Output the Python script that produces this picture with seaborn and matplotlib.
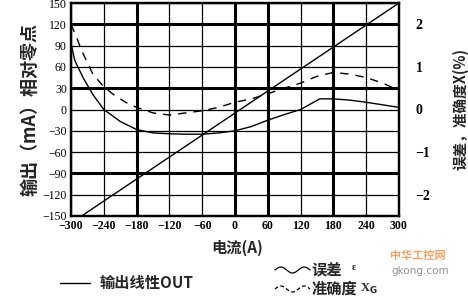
import numpy as np
import pandas as pd
import matplotlib
matplotlib.use("Agg")
import matplotlib.pyplot as plt
from matplotlib.lines import Line2D
import seaborn as sns

# ---- data ----
current_ticks = [-300, -240, -180, -120, -60, 0, 60, 120, 180, 240, 300]
output_ticks = [150, 120, 90, 60, 30, 0, -30, -60, -90, -120, -150]
pct_ticks = [2, 1, 0, -1, -2]

out_x = [-300, 300]
out_y = [-160, 150]

err_x = [-300, -293, -278, -260, -240, -210, -180, -150, -120, -90, -60, -30, 0, 30, 60, 90, 120, 155, 180, 210, 240, 270, 300]
err_y = [1.55, 1.15, 0.75, 0.35, 0.0, -0.28, -0.47, -0.55, -0.57, -0.58, -0.58, -0.55, -0.5, -0.4, -0.25, -0.12, 0.0, 0.25, 0.25, 0.22, 0.17, 0.11, 0.05]

acc_x = [-300, -290, -280, -260, -240, -220, -200, -180, -150, -120, -90, -60, -30, 0, 30, 60, 90, 120, 150, 180, 210, 240, 270, 300]
acc_y = [2.0, 1.7, 1.37, 0.83, 0.53, 0.33, 0.17, 0.05, -0.08, -0.13, -0.08, -0.03, 0.05, 0.17, 0.25, 0.37, 0.5, 0.62, 0.78, 0.87, 0.83, 0.75, 0.62, 0.45]

thick_x = [-180, 0, 60, 180]
thick_y = [120, 30, -90]

sns.set_theme(style="white")
plt.rcParams['font.family'] = ['Liberation Serif', 'Noto Sans CJK SC', 'DejaVu Sans']
plt.rcParams['axes.unicode_minus'] = True

fig = plt.figure(figsize=(4.68, 3.03), dpi=100)
ax = fig.add_axes([71/468, 1-216/303, (399-71)/468, (216-3)/303])
ax2 = ax.twinx()

ax.set_xlim(-300, 300)
ax.set_ylim(-150, 150)
ax2.set_ylim(-2.5, 2.5)

# grid
for xv in current_ticks:
    ax.axvline(xv, color='black', lw=2.2 if xv in thick_x else 0.9, zorder=1)
for yv in output_ticks:
    ax.axhline(yv, color='black', lw=2.2 if yv in thick_y else 0.9, zorder=1)

df_out = pd.DataFrame({'x': out_x, 'y': out_y})
sns.lineplot(data=df_out, x='x', y='y', ax=ax, color='black', lw=1.0, zorder=3)
df_err = pd.DataFrame({'x': err_x, 'y': err_y})
sns.lineplot(data=df_err, x='x', y='y', ax=ax2, color='black', lw=1.0, zorder=3)
df_acc = pd.DataFrame({'x': acc_x, 'y': acc_y})
sns.lineplot(data=df_acc, x='x', y='y', ax=ax2, color='black', lw=1.0, zorder=3,
             linestyle=(0, (6, 5)))

for a in (ax, ax2):
    a.set_xlabel('')
    a.set_ylabel('')
    for s in a.spines.values():
        s.set_color('black')
        s.set_linewidth(1.6)

ax.set_xticks(current_ticks)
ax.set_xticklabels([str(v).replace('-', '\u2212') for v in current_ticks],
                   fontsize=8.5, fontweight='bold')
ax.set_yticks(output_ticks)
ax.set_yticklabels([str(v).replace('-', '\u2212') for v in output_ticks], fontsize=8.5)
ax.tick_params(axis='both', length=0, pad=3, colors='black')
ax2.set_yticks(pct_ticks)
ax2.set_yticklabels([str(v).replace('-', '\u2212') for v in pct_ticks],
                    fontsize=10, fontweight='bold')
ax2.tick_params(axis='y', length=0, pad=12, colors='black')

ax.set_ylabel('输出（mA）相对零点', fontsize=13, fontweight='bold',
              family=['Noto Sans CJK SC'], labelpad=2)
ax2.set_ylabel('误差，准确度X(%)', fontsize=10.5, fontweight='bold', rotation=90,
               family=['Noto Sans CJK SC', 'DejaVu Sans'])
ax2.yaxis.set_label_coords((452-71)/328, 0.5)

fig.text(237/468, 1-248/303, '电流(A)', ha='center', va='center', fontsize=11,
         fontweight='bold', family=['Noto Sans CJK SC'])

# legend
fig.add_artist(Line2D([60/468, 90/468], [1-283/303]*2, color='black', lw=1.0))
fig.text(100/468, 1-283/303, '输出线性OUT', ha='left', va='center', fontsize=11,
         fontweight='bold', family=['Noto Sans CJK SC'])
t = np.linspace(0, 1, 40)
sx = (275 + 35 * t) / 468
fig.add_artist(Line2D(sx, 1 - (270 - 3 * np.sin(t * 2 * np.pi * 1.5)) / 303, color='black', lw=0.9))
fig.add_artist(Line2D(sx, 1 - (289 - 3 * np.sin(t * 2 * np.pi * 1.5)) / 303, color='black', lw=0.9,
                      linestyle=(0, (3, 2))))
fig.text(311/468, 1-270/303, '误差', ha='left', va='center', fontsize=11,
         fontweight='bold', family=['Noto Sans CJK SC'])
fig.text(352/468, 1-268/303, 'ε', ha='left', va='center', fontsize=7, fontweight='bold')
fig.text(311/468, 1-289/303, '准确度', ha='left', va='center', fontsize=11,
         fontweight='bold', family=['Noto Sans CJK SC'])
fig.text(360/468, 1-289/303, r'X$_{\mathbf{G}}$', ha='left', va='center', fontsize=9,
         fontweight='bold')

# watermark
fig.text(418/468, 1-255/303, '中华工控网', ha='center', va='center', fontsize=8,
         fontweight='bold', color='#f08a3c', alpha=0.8, family=['Noto Sans CJK SC'])
fig.text(420/468, 1-271/303, 'gkong.com', ha='center', va='center', fontsize=7.5,
         color='#777777', alpha=0.8, family=['DejaVu Sans'])

fig.savefig('out.png', dpi=100)
